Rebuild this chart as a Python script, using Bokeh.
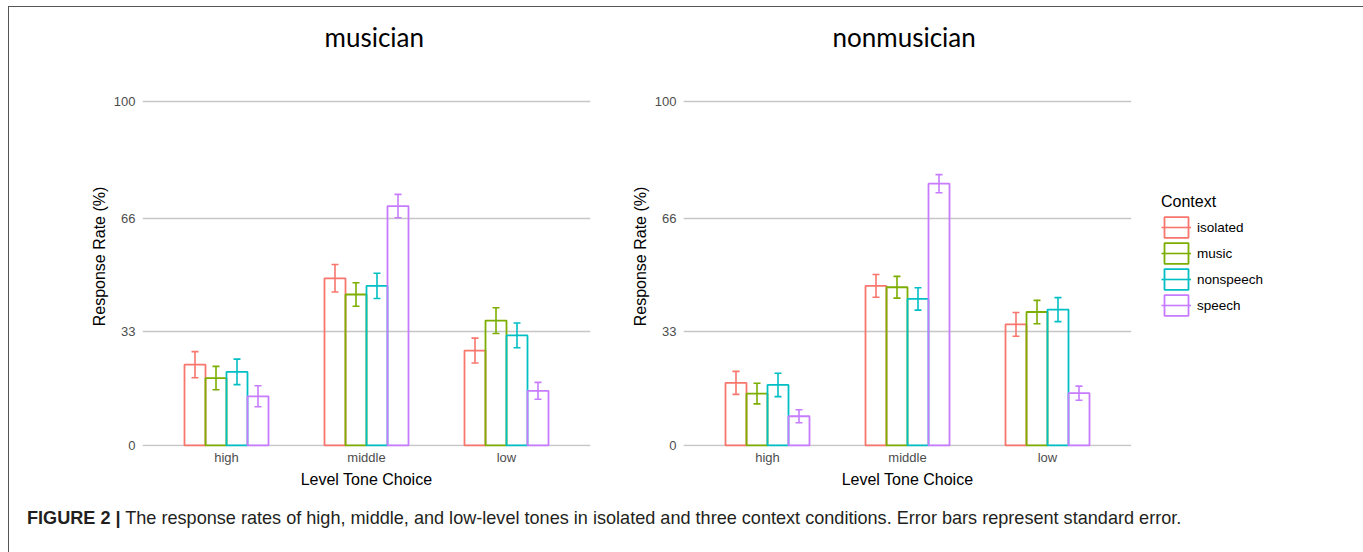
from bokeh.plotting import figure
from bokeh.models import (Range1d, FixedTicker, Legend, LegendItem, Div,
                          ColumnDataSource)
from bokeh.layouts import row, column
from bokeh.embed import file_html
from bokeh.resources import INLINE

# ---------------- data ----------------
categories = ["high", "middle", "low"]
contexts = ["isolated", "music", "nonspeech", "speech"]
colors = ["#F8766D", "#7CAE00", "#00BFC4", "#C77CFF"]
y_ticks = [0, 33, 66, 100]
panel_titles = ["musician", "nonmusician"]

# musician panel: mean response rate (%) and standard error per category
mus_isolated = [23.5, 48.6, 27.6]
mus_isolated_se = [3.8, 4.0, 3.6]
mus_music = [19.6, 43.9, 36.3]
mus_music_se = [3.4, 3.4, 3.75]
mus_nonspeech = [21.4, 46.4, 32.0]
mus_nonspeech_se = [3.7, 3.65, 3.6]
mus_speech = [14.3, 69.6, 15.9]
mus_speech_se = [3.05, 3.4, 2.45]

# nonmusician panel
non_isolated = [18.2, 46.4, 35.2]
non_isolated_se = [3.35, 3.3, 3.45]
non_music = [15.1, 46.0, 38.8]
non_music_se = [3.0, 3.15, 3.4]
non_nonspeech = [17.6, 42.6, 39.5]
non_nonspeech_se = [3.4, 3.25, 3.5]
non_speech = [8.5, 76.1, 15.2]
non_speech_se = [1.9, 2.65, 2.05]

caption_html = ('<b>FIGURE 2 |</b> The response rates of high, middle, and low-level tones '
                'in isolated and three context conditions. Error bars represent standard error.')

# ---------------- style ----------------
FONT = "Liberation Sans"
BAR_W = 0.15
CAP_HALF = 0.025
BAR_LW = 1.8
ERR_LW = 1.6
NAN = float("nan")


def make_panel(title, means, ses, width, mbl, mbr, title_offset):
    p = figure(width=width, height=488, output_backend="svg", toolbar_location=None,
               x_range=Range1d(0.4, 3.6), y_range=Range1d(-0.29, 110.17),
               min_border_left=mbl, min_border_right=mbr,
               min_border_top=59, min_border_bottom=49)
    p.outline_line_color = None
    p.background_fill_color = "white"
    p.border_fill_color = "white"

    p.title.text = title
    p.title.align = "left"
    p.title.offset = title_offset
    p.title.vertical_align = "middle"
    p.title.text_font = "Lato"
    p.title.text_font_size = "26px"
    p.title.text_font_style = "normal"
    p.title.text_color = "black"
    p.title.standoff = 25

    n = len(contexts)
    for j in range(n):
        off = (j - (n - 1) / 2) * BAR_W
        xs = [i + 1 + off for i in range(len(categories))]
        src = ColumnDataSource(dict(x=xs, top=means[j]))
        p.vbar(x="x", top="top", bottom=0, width=BAR_W, source=src,
               fill_alpha=0, line_color=colors[j], line_width=BAR_LW)
    for j in range(n):
        off = (j - (n - 1) / 2) * BAR_W
        xs = [i + 1 + off for i in range(len(categories))]
        hi = [m + s for m, s in zip(means[j], ses[j])]
        lo = [m - s for m, s in zip(means[j], ses[j])]
        src = ColumnDataSource(dict(x=xs, hi=hi, lo=lo,
                                    xl=[x - CAP_HALF for x in xs],
                                    xr=[x + CAP_HALF for x in xs]))
        p.segment(x0="x", y0="lo", x1="x", y1="hi", source=src,
                  line_color=colors[j], line_width=ERR_LW)
        p.segment(x0="xl", y0="hi", x1="xr", y1="hi", source=src,
                  line_color=colors[j], line_width=ERR_LW)
        p.segment(x0="xl", y0="lo", x1="xr", y1="lo", source=src,
                  line_color=colors[j], line_width=ERR_LW)

    # axes
    p.xaxis.ticker = FixedTicker(ticks=[i + 1 for i in range(len(categories))])
    p.xaxis.major_label_overrides = {i + 1: c for i, c in enumerate(categories)}
    p.yaxis.ticker = FixedTicker(ticks=y_ticks)
    for ax in (p.xaxis[0], p.yaxis[0]):
        ax.axis_line_color = None
        ax.major_tick_line_color = None
        ax.minor_tick_line_color = None
        ax.major_tick_out = 0
        ax.minor_tick_out = 0
        ax.major_label_text_font = FONT
        ax.major_label_text_font_size = "13px"
        ax.major_label_text_color = "#4D4D4D"
        ax.axis_label_text_font = FONT
        ax.axis_label_text_font_size = "16px"
        ax.axis_label_text_font_style = "normal"
        ax.axis_label_text_color = "black"
    p.xaxis.major_label_standoff = 3
    p.xaxis.axis_label_standoff = 3
    p.yaxis.major_label_standoff = 7
    p.yaxis.axis_label_standoff = 3
    p.xaxis.axis_label = "Level Tone Choice"
    p.yaxis.axis_label = "Response Rate (%)"

    p.xgrid.grid_line_color = None
    p.ygrid.ticker = FixedTicker(ticks=y_ticks)
    p.ygrid.grid_line_color = "#C6C6C6"
    p.ygrid.grid_line_width = 1.3
    return p


def make_legend_panel(width):
    lp = figure(width=width, height=488, output_backend="svg", toolbar_location=None,
                x_axis_type=None, y_axis_type=None, min_border=0,
                x_range=Range1d(0, 1), y_range=Range1d(0, 1))
    lp.outline_line_color = None
    lp.xgrid.visible = False
    lp.ygrid.visible = False
    items = []
    for j, ctx in enumerate(contexts):
        # key glyphs only (undrawn NaN point): outlined box + error-bar line
        kb = lp.vbar(x=[NAN], top=[NAN], width=BAR_W, fill_alpha=0,
                     line_color=colors[j], line_width=BAR_LW)
        ks = lp.segment(x0=[NAN], y0=[NAN], x1=[NAN], y1=[NAN],
                        line_color=colors[j], line_width=ERR_LW)
        items.append(LegendItem(label=ctx, renderers=[kb, ks]))
    leg = Legend(items=items, title="Context", location=(10, 128),
                 orientation="vertical", margin=0, padding=0, spacing=0,
                 border_line_color=None, background_fill_alpha=0,
                 glyph_width=30, glyph_height=26, label_standoff=6,
                 title_standoff=3, label_height=20,
                 label_text_font=FONT, label_text_font_size="13.5px",
                 label_text_color="black",
                 title_text_font=FONT, title_text_font_size="16px",
                 title_text_font_style="normal", title_text_color="black")
    lp.add_layout(leg, "center")
    return lp


mus_means = [mus_isolated, mus_music, mus_nonspeech, mus_speech]
mus_ses = [mus_isolated_se, mus_music_se, mus_nonspeech_se, mus_speech_se]
non_means = [non_isolated, non_music, non_nonspeech, non_speech]
non_ses = [non_isolated_se, non_music_se, non_nonspeech_se, non_speech_se]

p1 = make_panel(panel_titles[0], mus_means, mus_ses, 602, 133, 21, 182)
p2 = make_panel(panel_titles[1], non_means, non_ses, 540, 72, 20, 149)
lp = make_legend_panel(203)

caption = Div(text=caption_html, width=1345, height=56,
              styles={"font-family": FONT, "font-size": "18.1px", "color": "#231F20",
                      "padding-top": "6px", "padding-left": "13px",
                      "white-space": "nowrap"})

layout = column(row(p1, p2, lp), caption, margin=(6, 0, 0, 8),
                styles={"border-left": "1px solid #555555",
                        "border-top": "1px solid #555555",
                        "border-right": "1px solid #555555"})

open("out.html", "w").write(file_html(layout, INLINE))
